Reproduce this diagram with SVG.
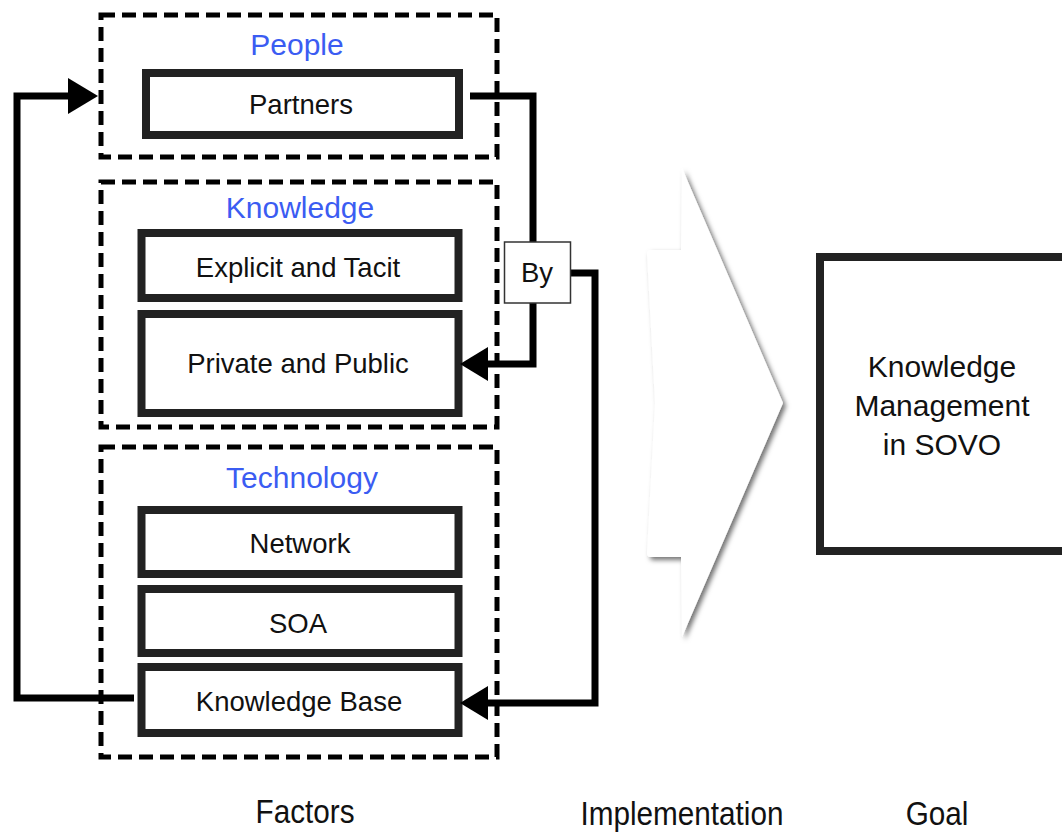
<svg xmlns="http://www.w3.org/2000/svg" width="1062" height="832" viewBox="0 0 1062 832">
<defs>
<style>
.dash{fill:none;stroke:#000;stroke-width:5;stroke-dasharray:14 7}
.node{fill:#fff;stroke:#222;stroke-width:8}
.lbl{font-family:"Liberation Sans",Arial,sans-serif;font-size:27.5px;fill:#111;text-anchor:middle}
.hdr{font-family:"Liberation Sans",Arial,sans-serif;font-size:30px;fill:#3b5cf2;text-anchor:middle}
.cap{font-family:"Liberation Sans",Arial,sans-serif;font-size:30px;fill:#111;text-anchor:middle}
.bot{font-family:"Liberation Sans",Arial,sans-serif;font-size:33px;fill:#111;text-anchor:middle}
.conn{fill:none;stroke:#000;stroke-width:7}
.head{fill:#000}
</style>
<filter id="sh" x="-20%" y="-10%" width="150%" height="130%">
<feDropShadow dx="3" dy="3" stdDeviation="2.5" flood-color="#000" flood-opacity="0.55"/>
</filter>
</defs>
<rect width="1062" height="832" fill="#fff"/>

<g id="group-people">
<rect class="dash" x="101" y="15" width="396" height="142"/>
<text class="hdr" x="297" y="55">People</text>
</g>
<g id="group-knowledge">
<rect class="dash" x="101" y="182" width="396" height="245"/>
<text class="hdr" x="300" y="218">Knowledge</text>
</g>
<g id="group-technology">
<rect class="dash" x="101" y="447" width="396" height="310"/>
<text class="hdr" x="302" y="488">Technology</text>
</g>

<g id="node-partners">
<rect class="node" x="146" y="73" width="313" height="62"/>
<text class="lbl" x="301" y="114">Partners</text>
</g>
<g id="node-explicit">
<rect class="node" x="141.5" y="233" width="317" height="65"/>
<text class="lbl" x="298" y="277">Explicit and Tacit</text>
</g>
<g id="node-private">
<rect class="node" x="141.5" y="314" width="317" height="99"/>
<text class="lbl" x="298" y="373">Private and Public</text>
</g>
<g id="node-network">
<rect class="node" x="141.5" y="510" width="317" height="64"/>
<text class="lbl" x="300" y="553">Network</text>
</g>
<g id="node-soa">
<rect class="node" x="141.5" y="589" width="317" height="64"/>
<text class="lbl" x="298" y="633">SOA</text>
</g>
<g id="node-kb">
<rect class="node" x="141.5" y="667" width="317" height="66"/>
<text class="lbl" x="299" y="711">Knowledge Base</text>
</g>

<g id="connectors">
<polyline class="conn" points="470,96 533,96 533,242"/>
<polyline class="conn" points="533,303 533,364 487,364"/>
<polygon class="head" points="460,364 488,347 488,381"/>
<polyline class="conn" points="571,273 595,273 595,703 487,703"/>
<polygon class="head" points="460,703 488,686 488,720"/>
<polyline class="conn" points="134,698 17,698 17,96 70,96"/>
<polygon class="head" points="98,96 68,78 68,114"/>
</g>

<g id="node-by">
<rect x="504.5" y="242" width="66" height="61" fill="#fff" stroke="#333" stroke-width="1.5"/>
<text class="lbl" x="537" y="282">By</text>
</g>

<g id="implementation-arrow">
<path d="M682,168 L783,403 L682,637 L681,557 L650,557 Q647,557 647,553 L655,403 L647,254 Q647,250 650,250 L681,250 Z" fill="#fff" filter="url(#sh)"/>
</g>

<g id="node-goal">
<rect class="node" x="820" y="257" width="260" height="294"/>
<text class="cap" x="942" y="377">Knowledge</text>
<text class="cap" x="942" y="416">Management</text>
<text class="cap" x="942" y="455">in SOVO</text>
</g>

<g id="captions">
<text class="bot" transform="translate(305,823) scale(0.9,1)">Factors</text>
<text class="bot" transform="translate(682,825) scale(0.9,1)">Implementation</text>
<text class="bot" transform="translate(937,825) scale(0.9,1)">Goal</text>
</g>
</svg>
